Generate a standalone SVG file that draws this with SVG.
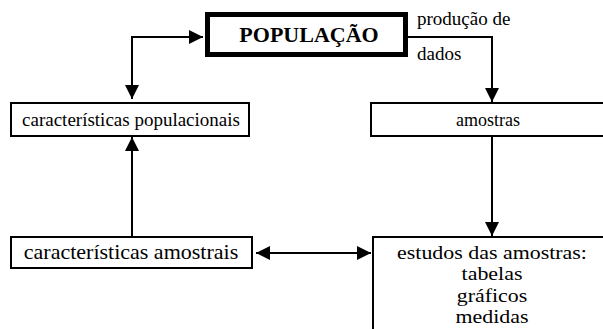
<svg xmlns="http://www.w3.org/2000/svg" width="603" height="329" viewBox="0 0 603 329">
<defs>
<style>
.box{fill:#fff;stroke:#000;stroke-width:2}
.t{font-family:'Liberation Serif','Times New Roman','DejaVu Serif',serif;fill:#000}
.c{fill:none;stroke:#000;stroke-width:2}
.e{font-size:19.4px;text-anchor:middle}
</style>
<marker id="ah" viewBox="0 0 14 14" refX="14" refY="7" markerWidth="14" markerHeight="14" markerUnits="userSpaceOnUse" orient="auto-start-reverse">
<path d="M0,0 L14,7 L0,14 Z" fill="#000"/>
</marker>
</defs>
<rect width="603" height="329" fill="#fff"/>
<g id="connectors">
<path class="c" d="M132,99 V37 H203" marker-start="url(#ah)" marker-end="url(#ah)"/>
<path class="c" d="M408,37 H492 V102" marker-end="url(#ah)"/>
<path class="c" d="M492,136 V236" marker-end="url(#ah)"/>
<path class="c" d="M132,236 V137" marker-end="url(#ah)"/>
<path class="c" d="M256,253 H371" marker-start="url(#ah)" marker-end="url(#ah)"/>
</g>
<g id="populacao">
<rect x="207.5" y="14.5" width="198" height="40" fill="#fff" stroke="#000" stroke-width="5"/>
<text class="t" x="309" y="42" font-size="22" font-weight="bold" text-anchor="middle">POPULAÇÃO</text>
</g>
<g id="producao-label">
<text class="t" x="417" y="25" font-size="19">produção de</text>
<text class="t" x="417" y="60" font-size="19">dados</text>
</g>
<g id="caracteristicas-populacionais">
<rect class="box" x="11" y="103" width="238" height="33"/>
<text class="t" x="131" y="126" font-size="19" text-anchor="middle">características populacionais</text>
</g>
<g id="amostras">
<rect class="box" x="371" y="103" width="240" height="33"/>
<text class="t" x="488" y="126" font-size="18" text-anchor="middle">amostras</text>
</g>
<g id="caracteristicas-amostrais">
<rect class="box" x="11" y="237" width="241" height="31" stroke-width="2.5"/>
<text class="t" x="131" y="259" font-size="22" text-anchor="middle">características amostrais</text>
</g>
<g id="estudos">
<rect class="box" x="373" y="237" width="240" height="120"/>
<g transform="translate(492,0) scale(1.13,1)">
<text class="t e" x="0" y="259">estudos das amostras:</text>
<text class="t e" x="0" y="280.5">tabelas</text>
<text class="t e" x="0" y="302">gráficos</text>
<text class="t e" x="0" y="323.5">medidas</text>
</g>
</g>
</svg>
